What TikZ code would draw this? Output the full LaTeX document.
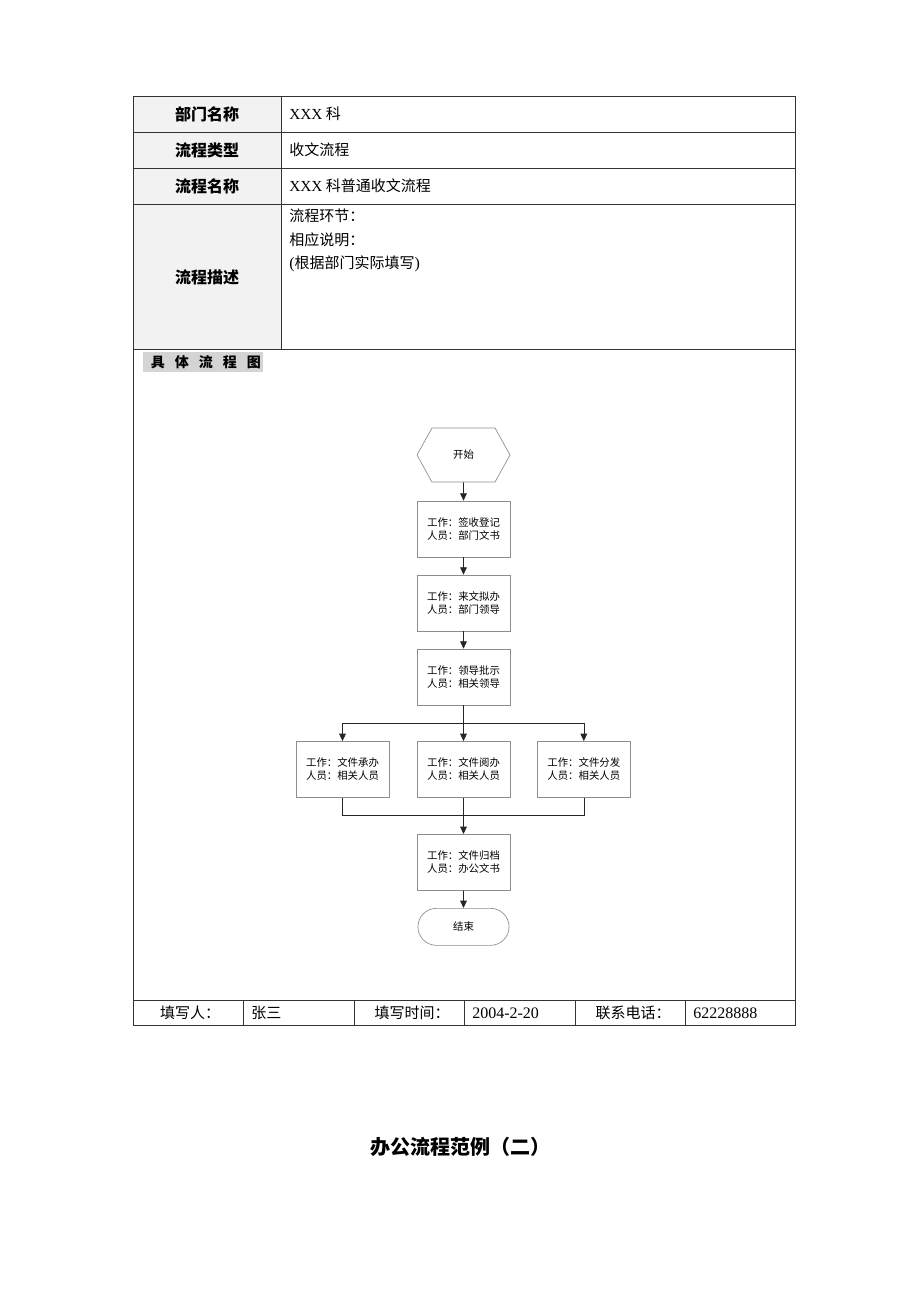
\documentclass[tikz,border=0pt]{standalone}
\usepackage{fontspec}
\setmainfont{Noto Sans CJK SC}
\newfontfamily\latinrm{Liberation Serif}
\usetikzlibrary{arrows.meta,positioning,shapes.misc,shapes.symbols}
\definecolor{labelgray}{HTML}{F2F2F2}
\definecolor{taggray}{HTML}{D4D4D4}
\definecolor{boxline}{HTML}{8C8C8C}

\tikzset{
  label/.style={font=\fontsize{12}{14}\selectfont\bfseries},
  content/.style={anchor=west,inner sep=0pt,font=\fontsize{11.25}{13}\selectfont},
  workbox/.style={draw=boxline,line width=0.5pt,minimum width=69.75pt,minimum height=42pt,
    inner sep=1pt,align=center,font=\fontsize{7.8}{9.6}\selectfont},
  flow/.style={line width=0.5pt,draw=black!85,-{Triangle[length=5.5pt,width=5pt]}},
  link/.style={line width=0.5pt,draw=black!85},
}

\begin{document}
\begin{tikzpicture}[x=0.75pt,y=-0.75pt]
  \useasboundingbox (0,0) rectangle (920,1302);

  % table frame
  \fill[labelgray] (133,96) rectangle (281,349);
  \begin{scope}[line width=0.6pt,draw=black!80]
    \draw (133,96) rectangle (795,1025);
    \foreach \y in {132,168,204,349,1000}
      \draw (133,\y) -- (795,\y);
    \draw (281,96) -- (281,349);
    \foreach \x in {243,354,464,575,685}
      \draw (\x,1000) -- (\x,1025);
  \end{scope}

  % head rows
  \node[label] (dept) at (207,114) {部门名称};
  \node[label] (type) at (207,150) {流程类型};
  \node[label] (name) at (207,186) {流程名称};
  \node[label] (desc) at (207,277) {流程描述};
  \node[content] (deptval) at (289,114) {{\latinrm\fontsize{11.5}{13}\selectfont XXX} 科};
  \node[content] (typeval) at (289,150) {收文流程};
  \node[content] (nameval) at (289,186) {{\latinrm\fontsize{11.5}{13}\selectfont XXX} 科普通收文流程};
  \node[content] (descA) at (289,216) {流程环节：};
  \node[content] (descB) at (289,240) {相应说明：};
  \node[content] (descC) at (289,264) {{\latinrm\fontsize{12}{13}\selectfont(}根据部门实际填写{\latinrm\fontsize{12}{13}\selectfont)}};

  \node[fill=taggray,anchor=west,minimum width=90pt,minimum height=15pt,inner sep=0pt,
    font=\fontsize{10.5}{12}\selectfont\bfseries] (chart) at (143,362)
    {\hspace{4pt}具\hspace{7.5pt}体\hspace{7.5pt}流\hspace{7.5pt}程\hspace{7.5pt}图};

  % flow chart
  \node[signal,signal to=west and east,signal pointer angle=122,draw=boxline,line width=0.5pt,
    minimum width=69.75pt,minimum height=40.5pt,inner sep=0pt,
    font=\fontsize{7.8}{9.6}\selectfont] (start) at (463.5,455) {开始};
  \node[workbox] (sign) at (463.5,529) {工作：签收登记\\人员：部门文书};
  \node[workbox,below=13pt of sign] (draft) {工作：来文拟办\\人员：部门领导};
  \node[workbox,below=13pt of draft] (approve) {工作：领导批示\\人员：相关领导};
  \node[workbox,below=26.8pt of approve] (read) {工作：文件阅办\\人员：相关人员};
  \node[workbox,left=20.5pt of read] (handle) {工作：文件承办\\人员：相关人员};
  \node[workbox,right=20pt of read] (issue) {工作：文件分发\\人员：相关人员};
  \node[workbox,below=27.2pt of read] (archive) {工作：文件归档\\人员：办公文书};
  \node[rounded rectangle,draw=boxline,line width=0.5pt,minimum width=75pt,minimum height=27.75pt,
    font=\fontsize{7.8}{9.6}\selectfont,below=13pt of archive] (finish) {结束};

  \coordinate (split) at (463.5,723);
  \coordinate (merge) at (463.5,815);

  \draw[flow] (start) -- (sign);
  \draw[flow] (sign) -- (draft);
  \draw[flow] (draft) -- (approve);
  \draw[link] (approve) -- (split);
  \draw[flow] (split) -| (handle);
  \draw[flow] (split) -- (read);
  \draw[flow] (split) -| (issue);
  \draw[link] (handle) |- (merge);
  \draw[link] (issue) |- (merge);
  \draw[link] (read) -- (merge);
  \draw[flow] (merge) -- (archive);
  \draw[flow] (archive) -- (finish);

  % bottom row
  \begin{scope}[font=\fontsize{11.25}{13}\selectfont]
    \node (writer) at (190,1013) {填写人：};
    \node[content] (writerval) at (251,1013) {张三};
    \node (date) at (412,1013) {填写时间：};
    \node[content] (dateval) at (472,1013) {\latinrm\fontsize{12}{13}\selectfont 2004-2-20};
    \node (phone) at (633,1013) {联系电话：};
    \node[content] (phoneval) at (693,1013) {\latinrm\fontsize{12}{13}\selectfont 62228888};
  \end{scope}

  \node[font=\fontsize{15}{18}\selectfont\bfseries] (title) at (460,1147) {办公流程范例（二）};
\end{tikzpicture}
\end{document}
